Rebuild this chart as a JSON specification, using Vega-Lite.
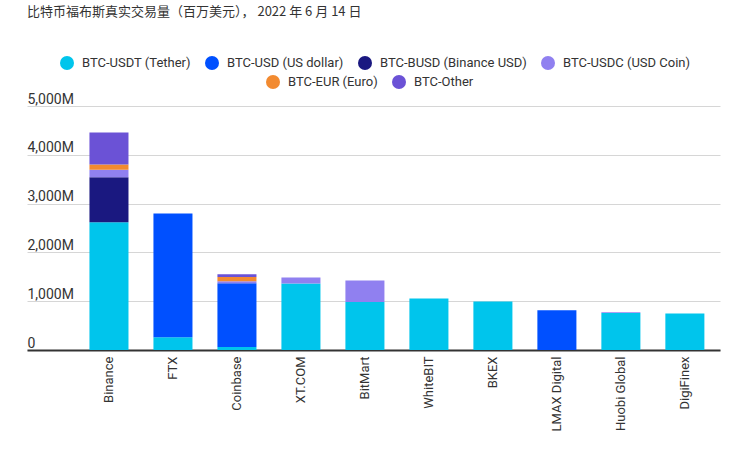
{
  "$schema": "https://vega.github.io/schema/vega-lite/v6.json",
  "width": 693,
  "height": 244,
  "autosize": "none",
  "padding": {"left": 27, "top": 106, "right": 19, "bottom": 101},
  "background": "white",
  "title": {
    "text": "比特币福布斯真实交易量（百万美元）， 2022 年 6 月 14 日",
    "anchor": "start",
    "frame": "group",
    "font": "Noto Sans CJK SC",
    "fontSize": 13,
    "fontWeight": "normal",
    "color": "#333333",
    "offset": 37
  },
  "data": {
    "values": [
      {"exchange": "Binance", "pair": "BTC-USDT (Tether)", "value": 2620},
      {"exchange": "Binance", "pair": "BTC-BUSD (Binance USD)", "value": 920},
      {"exchange": "Binance", "pair": "BTC-USDC (USD Coin)", "value": 155},
      {"exchange": "Binance", "pair": "BTC-EUR (Euro)", "value": 105},
      {"exchange": "Binance", "pair": "BTC-Other", "value": 655},
      {"exchange": "FTX", "pair": "BTC-USDT (Tether)", "value": 260},
      {"exchange": "FTX", "pair": "BTC-USD (US dollar)", "value": 2535},
      {"exchange": "Coinbase", "pair": "BTC-USDT (Tether)", "value": 60},
      {"exchange": "Coinbase", "pair": "BTC-USD (US dollar)", "value": 1310},
      {"exchange": "Coinbase", "pair": "BTC-USDC (USD Coin)", "value": 40},
      {"exchange": "Coinbase", "pair": "BTC-EUR (Euro)", "value": 85},
      {"exchange": "Coinbase", "pair": "BTC-Other", "value": 55},
      {"exchange": "XT.COM", "pair": "BTC-USDT (Tether)", "value": 1365},
      {"exchange": "XT.COM", "pair": "BTC-USDC (USD Coin)", "value": 122},
      {"exchange": "BitMart", "pair": "BTC-USDT (Tether)", "value": 982},
      {"exchange": "BitMart", "pair": "BTC-USDC (USD Coin)", "value": 443},
      {"exchange": "WhiteBIT", "pair": "BTC-USDT (Tether)", "value": 1057},
      {"exchange": "BKEX", "pair": "BTC-USDT (Tether)", "value": 996},
      {"exchange": "LMAX Digital", "pair": "BTC-USD (US dollar)", "value": 812},
      {"exchange": "Huobi Global", "pair": "BTC-USDT (Tether)", "value": 760},
      {"exchange": "Huobi Global", "pair": "BTC-USDC (USD Coin)", "value": 12},
      {"exchange": "DigiFinex", "pair": "BTC-USDT (Tether)", "value": 750}
    ]
  },
  "layer": [
    {
      "transform": [
        {"filter": {"field": "pair", "oneOf": ["BTC-USDT (Tether)", "BTC-USD (US dollar)", "BTC-BUSD (Binance USD)", "BTC-USDC (USD Coin)"]}}
      ],
      "mark": {"type": "point", "filled": true, "opacity": 1, "size": 1},
      "encoding": {
        "x": {"field": "exchange", "type": "nominal"},
        "y": {"datum": 10, "type": "quantitative"},
        "fill": {
          "field": "pair",
          "type": "nominal",
          "scale": {
            "domain": ["BTC-USDT (Tether)", "BTC-USD (US dollar)", "BTC-BUSD (Binance USD)", "BTC-USDC (USD Coin)"],
            "range": ["#00c5ec", "#0050ff", "#1a1880", "#9080f0"]
          },
          "legend": {"orient": "none", "legendX": 33, "legendY": -50, "direction": "horizontal", "title": null}
        }
      }
    },
    {
      "transform": [
        {"filter": {"field": "pair", "oneOf": ["BTC-EUR (Euro)", "BTC-Other"]}}
      ],
      "mark": {"type": "point", "filled": true, "opacity": 1, "size": 1},
      "encoding": {
        "x": {"field": "exchange", "type": "nominal"},
        "y": {"datum": 10, "type": "quantitative"},
        "fill": {
          "field": "pair",
          "type": "nominal",
          "scale": {
            "domain": ["BTC-EUR (Euro)", "BTC-Other"],
            "range": ["#f28a30", "#6b52d6"]
          },
          "legend": {"orient": "none", "legendX": 239, "legendY": -31, "direction": "horizontal", "title": null}
        }
      }
    },
    {
      "transform": [
        {"calculate": "indexof(['BTC-USDT (Tether)', 'BTC-USD (US dollar)', 'BTC-BUSD (Binance USD)', 'BTC-USDC (USD Coin)', 'BTC-EUR (Euro)', 'BTC-Other'], datum.pair)", "as": "stackorder"}
      ],
      "mark": {"type": "bar"},
      "encoding": {
        "x": {
          "field": "exchange",
          "type": "nominal",
          "scale": {
            "domain": ["Binance", "FTX", "Coinbase", "XT.COM", "BitMart", "WhiteBIT", "BKEX", "LMAX Digital", "Huobi Global", "DigiFinex"],
            "paddingInner": 0.39, "paddingOuter": 0.61, "align": 0.8
          },
          "axis": {
            "title": null,
            "labelAngle": -90,
            "labelFont": "Roboto",
            "labelFontSize": 13,
            "labelColor": "#333333",
            "labelPadding": 6,
            "ticks": false,
            "domainColor": "#333333",
            "domainWidth": 2,
            "grid": false
          }
        },
        "y": {
          "field": "value",
          "type": "quantitative",
          "aggregate": "sum",
          "stack": "zero",
          "scale": {"domain": [0, 5000], "nice": false},
          "axis": {
            "title": null,
            "values": [0, 1000, 2000, 3000, 4000, 5000],
            "labelExpr": "datum.value == 0 ? '0' : format(datum.value, ',') + 'M'",
            "labelAlign": "left",
            "labelBaseline": "alphabetic",
            "labelPadding": 0,
            "labelOffset": -3,
            "labelFont": "Roboto",
            "labelFontSize": 14,
            "labelColor": "#333333",
            "domain": false,
            "ticks": false,
            "grid": true,
            "gridColor": "#d6d6d6",
            "gridWidth": 1
          }
        },
        "color": {
          "field": "pair",
          "type": "nominal",
          "scale": {
            "domain": ["BTC-USDT (Tether)", "BTC-USD (US dollar)", "BTC-BUSD (Binance USD)", "BTC-USDC (USD Coin)", "BTC-EUR (Euro)", "BTC-Other"],
            "range": ["#00c5ec", "#0050ff", "#1a1880", "#9080f0", "#f28a30", "#6b52d6"]
          },
          "legend": null
        },
        "order": {"field": "stackorder", "type": "quantitative", "sort": "ascending"}
      }
    }
  ],
  "resolve": {
    "scale": {"fill": "independent"},
    "legend": {"fill": "independent"}
  },
  "config": {
    "view": {"stroke": null},
    "legend": {
      "symbolType": "circle",
      "symbolSize": 196,
      "symbolOpacity": 1,
      "symbolStrokeWidth": 0,
      "labelFont": "Roboto",
      "labelFontSize": 13,
      "labelColor": "#333333",
      "labelOffset": 8,
      "columnPadding": 14,
      "padding": 0,
      "labelLimit": 300
    }
  }
}
